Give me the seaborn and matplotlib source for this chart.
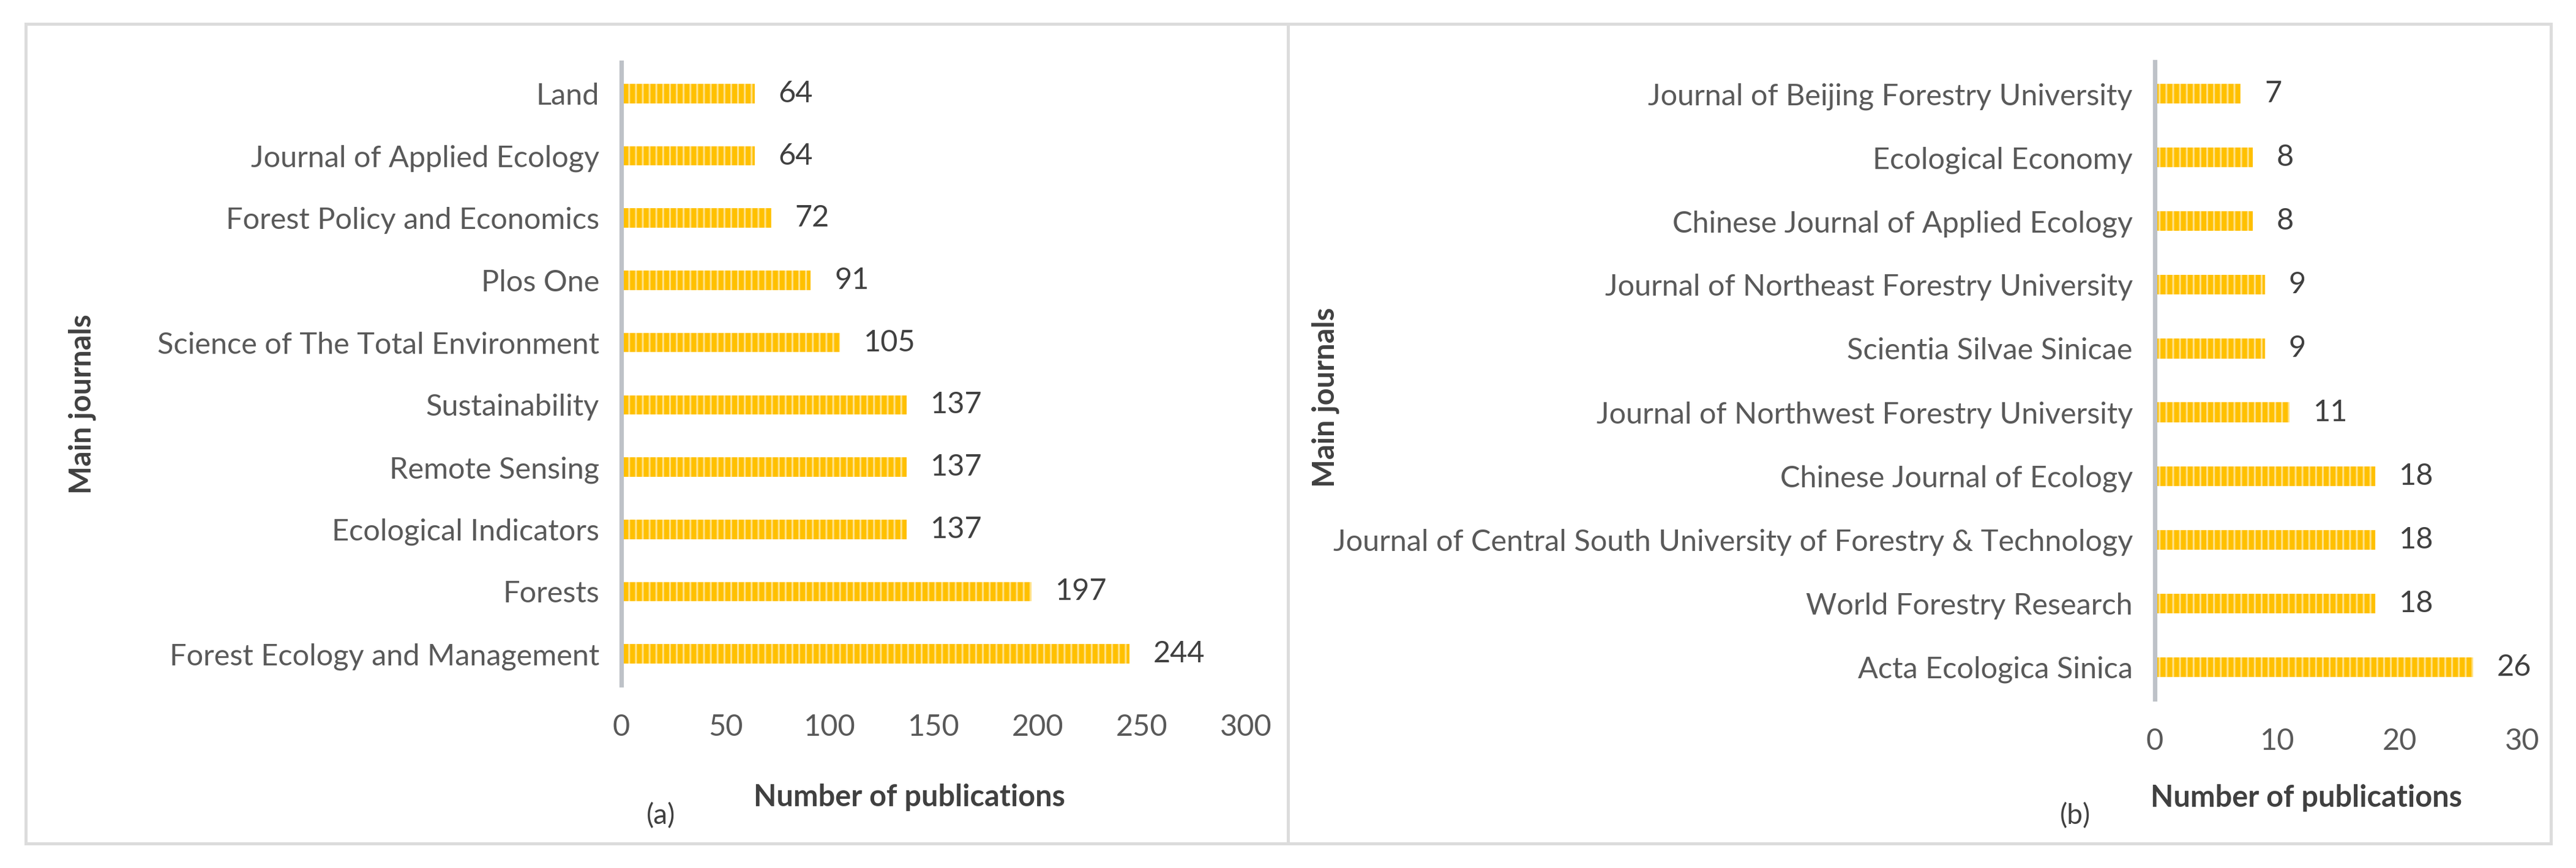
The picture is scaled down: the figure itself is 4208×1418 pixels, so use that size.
import matplotlib
matplotlib.use("Agg")
import matplotlib.pyplot as plt
from matplotlib.patches import Rectangle
import seaborn as sns
import pandas as pd

# panel (a): international journals
journals_a = ["Land", "Journal of Applied Ecology", "Forest Policy and Economics", "Plos One",
              "Science of The Total Environment", "Sustainability", "Remote Sensing",
              "Ecological Indicators", "Forests", "Forest Ecology and Management"]
counts_a = [64, 64, 72, 91, 105, 137, 137, 137, 197, 244]
ticks_a = [0, 50, 100, 150, 200, 250, 300]

# panel (b): Chinese journals
journals_b = ["Journal of Beijing Forestry University", "Ecological Economy",
              "Chinese Journal of Applied Ecology", "Journal of Northeast Forestry University",
              "Scientia Silvae Sinicae", "Journal of Northwest Forestry University",
              "Chinese Journal of Ecology",
              "Journal of Central South University of Forestry & Technology",
              "World Forestry Research", "Acta Ecologica Sinica"]
counts_b = [7, 8, 8, 9, 9, 11, 18, 18, 18, 26]
ticks_b = [0, 10, 20, 30]

W, H = 4208, 1418
DPI = 200

sns.set_style("white")
plt.rcParams['font.family'] = ['Lato', 'DejaVu Sans']
plt.rcParams['hatch.linewidth'] = 1.1

TICK_COL = '#595959'
LAB_COL = '#404040'
FS = 17.5


def px_rect(x0, y0, x1, y1):
    # pixel box (top-left origin) -> figure fraction [l, b, w, h]
    return [x0 / W, 1 - y1 / H, (x1 - x0) / W, (y1 - y0) / H]


def draw_panel(ax, names, counts, ticks, xlab_xy, ylab_xy):
    df = pd.DataFrame({"journal": names, "n": counts})
    sns.barplot(data=df, x="n", y="journal", ax=ax, color="#FFC000",
                saturation=1, width=0.31, errorbar=None)
    for p in ax.patches:
        p.set_hatch('|||')
        p.set_edgecolor('#FFE28A')
        p.set_linewidth(0)
    ax.bar_label(ax.containers[0], padding=14, fontsize=FS, color=LAB_COL)
    ax.set_xlim(ticks[0], ticks[-1])
    ax.set_xticks(ticks)
    for s in ["top", "right", "bottom"]:
        ax.spines[s].set_visible(False)
    ax.spines["left"].set_color('#BEC2C8')
    ax.spines["left"].set_linewidth(2.6)
    ax.tick_params(axis='y', length=0, pad=13, labelsize=FS, labelcolor=TICK_COL)
    ax.tick_params(axis='x', length=0, pad=17, labelsize=FS, labelcolor=TICK_COL)
    ax.set_xlabel("Number of publications", fontsize=FS, fontweight='bold', color=LAB_COL)
    ax.set_ylabel("Main journals", fontsize=FS, fontweight='bold', color=LAB_COL)
    ax.xaxis.set_label_coords(*xlab_xy)
    ax.xaxis.label.set_va('center')
    ax.yaxis.set_label_coords(*ylab_xy)
    ax.yaxis.label.set_va('center')


fig = plt.figure(figsize=(W / DPI, H / DPI), dpi=DPI)

ax_a = fig.add_axes(px_rect(1015, 102, 2035, 1119))
draw_panel(ax_a, journals_a, counts_a, ticks_a, (0.461, -0.180), (-0.863, 0.451))

ax_b = fig.add_axes(px_rect(3520, 101, 4120, 1142))
draw_panel(ax_b, journals_b, counts_b, ticks_b, (0.413, -0.155), (-2.258, 0.473))

fig.text(1080 / W, 1 - 1333 / H, "(a)", ha='center', va='center', fontsize=FS - 1, color=LAB_COL)
fig.text(3390 / W, 1 - 1333 / H, "(b)", ha='center', va='center', fontsize=FS - 1, color=LAB_COL)

# panel frames
for x0, x1 in [(42, 2104), (2104, 4167)]:
    fig.add_artist(Rectangle((x0 / W, 1 - 1378 / H), (x1 - x0) / W, (1378 - 39) / H,
                             transform=fig.transFigure, fill=False,
                             edgecolor='#DCDCDC', linewidth=1.8))

fig.savefig("out.png", dpi=DPI, facecolor='white')
